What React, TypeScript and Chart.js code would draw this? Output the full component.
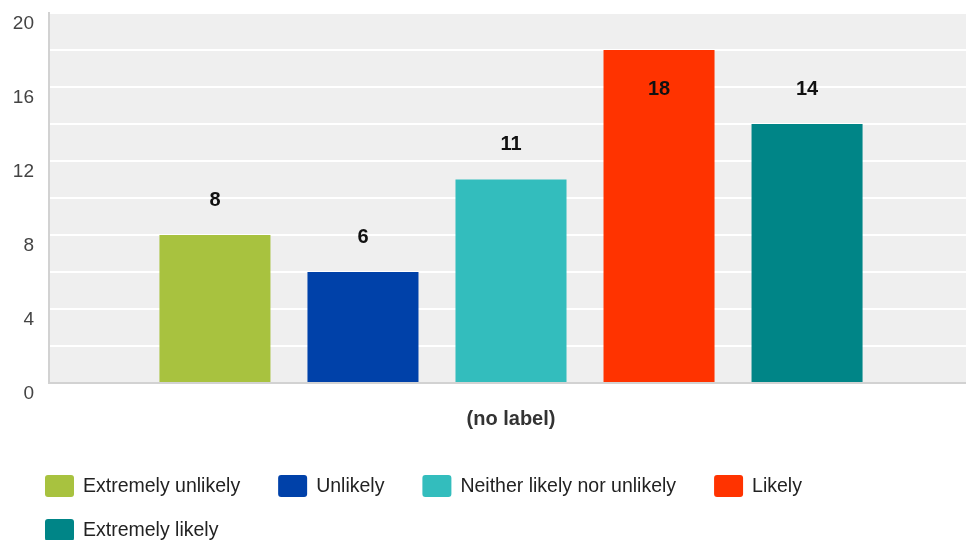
import { useEffect, useRef } from 'react';
import { Chart, registerables } from 'chart.js';

Chart.register(...registerables);

const FONT = '"Liberation Sans", Arial, sans-serif';

const categories = ['(no label)'];
const seriesNames = [
  'Extremely unlikely',
  'Unlikely',
  'Neither likely nor unlikely',
  'Likely',
  'Extremely likely',
];
const seriesValues = [8, 6, 11, 18, 14];
const seriesColors = ['#a8c23f', '#0041a9', '#33bdbd', '#ff3300', '#008587'];
const yTickLabels = [0, 4, 8, 12, 16, 20];

// Light gray fill behind the plot area
const plotBackground = {
  id: 'plotBackground',
  beforeDraw(chart: any) {
    const { ctx, chartArea } = chart;
    ctx.save();
    ctx.fillStyle = '#efefef';
    ctx.fillRect(chartArea.left, chartArea.top, chartArea.right - chartArea.left, chartArea.bottom - chartArea.top);
    ctx.restore();
  },
};

// Value written above each bar, or inside it when there is no room above
const valueLabels = {
  id: 'valueLabels',
  afterDatasetsDraw(chart: any) {
    const { ctx, chartArea } = chart;
    ctx.save();
    ctx.font = 'bold 20px ' + FONT;
    ctx.fillStyle = '#111111';
    ctx.textAlign = 'center';
    ctx.textBaseline = 'middle';
    chart.data.datasets.forEach((ds: any, i: number) => {
      const meta = chart.getDatasetMeta(i);
      meta.data.forEach((bar: any, j: number) => {
        const gap = 37;
        let y = bar.y - gap;
        if (y < chartArea.top + 20) y = bar.y + gap;
        ctx.fillText(String(ds.data[j]), bar.x, y + 2);
      });
    });
    ctx.restore();
  },
};

// Wrapping legend along the bottom edge
const bottomLegend = {
  id: 'bottomLegend',
  afterDraw(chart: any) {
    const { ctx } = chart;
    const startX = 45;
    const boxW = 29;
    const boxH = 22;
    const textGap = 9;
    const itemGap = 38;
    const rowH = 44;
    const maxRight = 956;
    let x = startX;
    let y = 486;
    ctx.save();
    ctx.font = '19.5px ' + FONT;
    ctx.textBaseline = 'middle';
    ctx.textAlign = 'left';
    chart.data.datasets.forEach((ds: any) => {
      const w = boxW + textGap + ctx.measureText(ds.label).width;
      if (x > startX && x + w > maxRight) {
        x = startX;
        y += rowH;
      }
      ctx.fillStyle = ds.backgroundColor;
      ctx.beginPath();
      ctx.roundRect(x, y - boxH / 2, boxW, boxH, 3);
      ctx.fill();
      ctx.fillStyle = '#222222';
      ctx.fillText(ds.label, x + boxW + textGap, y + 1);
      x += w + itemGap;
    });
    ctx.restore();
  },
};

export default function App() {
  const canvasRef = useRef<HTMLCanvasElement | null>(null);

  useEffect(() => {
    if (!canvasRef.current) return;
    Chart.defaults.font.family = FONT;
    const chart = new Chart(canvasRef.current, {
      type: 'bar',
      data: {
        labels: categories,
        datasets: seriesNames.map((name, i) => ({
          label: name,
          data: [seriesValues[i]],
          backgroundColor: seriesColors[i],
          borderWidth: 0,
        })),
      },
      options: {
        animation: false,
        responsive: false,
        devicePixelRatio: 1,
        categoryPercentage: 0.801,
        barPercentage: 0.75,
        layout: { padding: { left: 13, top: 13, right: 0, bottom: 109 } },
        plugins: {
          legend: { display: false },
          tooltip: { enabled: false },
          title: { display: false },
        },
        scales: {
          x: {
            grid: { display: false, drawTicks: false },
            border: { display: true, color: '#d2d2d2', width: 2 },
            ticks: { display: false },
            title: {
              display: true,
              text: categories[0],
              color: '#333333',
              font: { size: 20, weight: 'bold', family: FONT },
              padding: { top: 24, bottom: 0 },
            },
          },
          y: {
            min: 0,
            max: 20,
            afterFit: (s: any) => {
              s.width = 36;
              s.paddingTop = 0;
              s.paddingBottom = 0;
            },
            grid: {
              color: (c: any) => (c.tick && c.tick.value === 0 ? 'rgba(0,0,0,0)' : '#ffffff'),
              lineWidth: 2,
              drawTicks: false,
            },
            border: { display: true, color: '#d2d2d2', width: 2 },
            ticks: {
              stepSize: 2,
              padding: 15,
              labelOffset: 11,
              color: '#444444',
              font: { size: 19, family: FONT },
              callback: (v: any) => (yTickLabels.includes(Number(v)) ? String(v) : ''),
            },
          },
        },
      },
      plugins: [plotBackground, valueLabels, bottomLegend],
    });
    return () => chart.destroy();
  }, []);

  // The plot runs slightly past the right edge of the visible frame
  return (
    <div style={{ position: 'fixed', left: 0, top: 0, width: 966, height: 540, overflow: 'hidden', background: '#ffffff' }}>
      <canvas ref={canvasRef} width={973} height={540} style={{ display: 'block' }} />
    </div>
  );
}
